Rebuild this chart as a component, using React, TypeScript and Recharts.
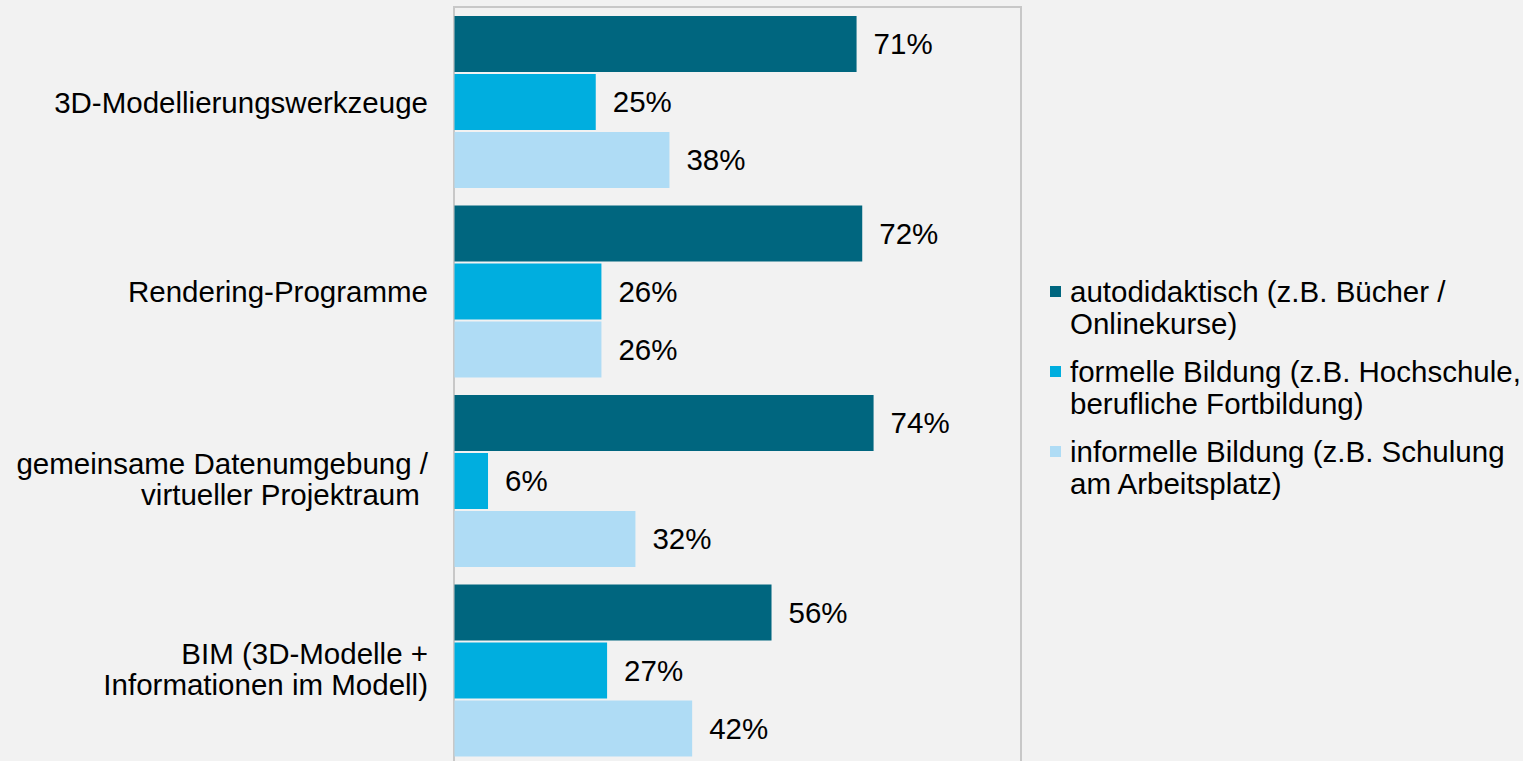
import { BarChart, Bar, XAxis, YAxis, LabelList, ReferenceArea } from 'recharts'

const categories = [
  '3D-Modellierungswerkzeuge',
  'Rendering-Programme',
  'gemeinsame Datenumgebung /\nvirtueller Projektraum\u00a0',
  'BIM (3D-Modelle +\nInformationen im Modell)',
]

const autodidaktisch = [71, 72, 74, 56]
const formell = [25, 26, 6, 27]
const informell = [38, 26, 32, 42]

const seriesNames = [
  'autodidaktisch (z.B. Bücher /\nOnlinekurse)',
  'formelle Bildung (z.B. Hochschule,\nberufliche Fortbildung)',
  'informelle Bildung (z.B. Schulung\nam Arbeitsplatz)',
]
const seriesColors = ['#00667f', '#00aedf', '#afdcf5']

const data = categories.map((name, i) => ({
  name,
  auto: autodidaktisch[i],
  formal: formell[i],
  informal: informell[i],
}))

const FONT = '"Liberation Sans", Arial, sans-serif'
const FS = 29.5

function CategoryTick(props: any) {
  const { y, payload } = props
  const lines = String(payload.value).split('\n')
  const lineH = 31
  const startY = y - ((lines.length - 1) * lineH) / 2 - (lines.length > 1 ? 2 : 0)
  return (
    <text x={428} y={startY} textAnchor="end" fontSize={FS} fill="#000" fontFamily={FONT} dominantBaseline="central">
      {lines.map((l, i) => (
        <tspan key={i} x={428} y={startY + i * lineH}>
          {l}
        </tspan>
      ))}
    </text>
  )
}

function LegendBox() {
  return (
    <div style={{ position: 'absolute', left: 1050, top: 276, width: 473, fontFamily: FONT, fontSize: FS, color: '#000' }}>
      {seriesNames.map((n, i) => (
        <div key={i} style={{ position: 'relative', paddingLeft: 20, lineHeight: '32px', marginBottom: 16, whiteSpace: 'pre' }}>
          <span
            style={{
              position: 'absolute',
              left: 0,
              top: 10,
              width: 11,
              height: 11,
              background: seriesColors[i],
            }}
          />
          {n}
        </div>
      ))}
    </div>
  )
}

const pct = (v: any) => `${v}%`

export default function App() {
  return (
    <div style={{ position: 'fixed', left: 0, top: 0, width: 1523, height: 761, overflow: 'hidden', background: '#f2f2f2' }}>
      <BarChart
        width={1523}
        height={790}
        data={data}
        layout="vertical"
        margin={{ top: 7, right: 502, bottom: 25, left: 0 }}
        barSize={56}
        barGap={2}
      >
        <XAxis type="number" domain={[0, 100]} hide />
        <YAxis
          type="category"
          dataKey="name"
          width={454}
          axisLine={{ stroke: '#c8c8c8' }}
          tickLine={false}
          tick={<CategoryTick />}
          interval={0}
        />
        <ReferenceArea x1={0} x2={100} stroke="#c8c8c8" strokeWidth={2} fill="none" ifOverflow="visible" />
        <Bar dataKey="auto" fill={seriesColors[0]} isAnimationActive={false}>
          <LabelList dataKey="auto" position="right" offset={17} formatter={pct} fontSize={FS} fill="#000" fontFamily={FONT} />
        </Bar>
        <Bar dataKey="formal" fill={seriesColors[1]} isAnimationActive={false}>
          <LabelList dataKey="formal" position="right" offset={17} formatter={pct} fontSize={FS} fill="#000" fontFamily={FONT} />
        </Bar>
        <Bar dataKey="informal" fill={seriesColors[2]} isAnimationActive={false}>
          <LabelList dataKey="informal" position="right" offset={17} formatter={pct} fontSize={FS} fill="#000" fontFamily={FONT} />
        </Bar>
      </BarChart>
      <LegendBox />
    </div>
  )
}
